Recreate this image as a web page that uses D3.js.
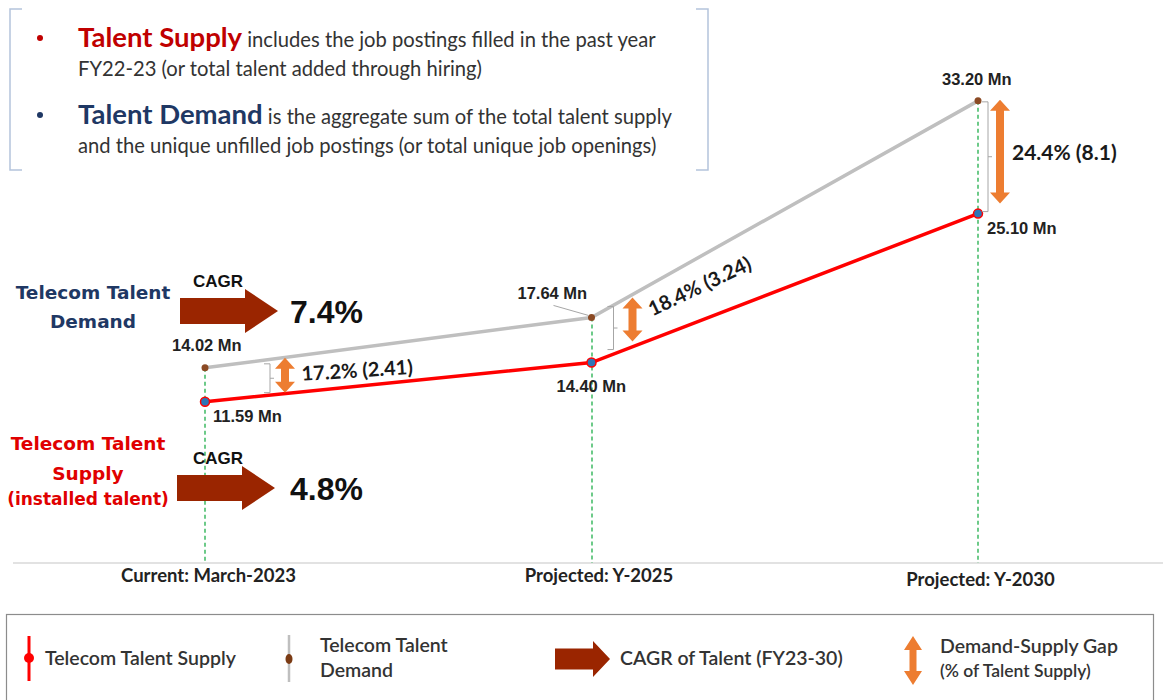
<!DOCTYPE html>
<html>
<head>
<meta charset="utf-8">
<script src="https://cdn.jsdelivr.net/npm/d3@7"></script>
<style>
  html, body { margin: 0; padding: 0; background: #fff; }
  svg { display: block; }
  .calibri { font-family: Lato, "Open Sans", sans-serif; }
  .arial { font-family: "Liberation Sans", Arial, sans-serif; }
</style>
</head>
<body>
<svg id="chart" width="1163" height="700"></svg>
<script>
// Telecom talent demand vs supply, with CAGR arrows and gap annotations.

const categories = ["Current: March-2023", "Projected: Y-2025", "Projected: Y-2030"];
const supply = [11.59, 14.40, 25.10];
const demand = [14.02, 17.64, 33.20];
const gapLabels = ["17.2% (2.41)", "18.4% (3.24)", "24.4% (8.1)"];
const cagrLabels = ["7.4%", "4.8%"];

const RED = "#ff0000", GREY = "#bfbfbf", ORANGE = "#ed7d31", ARROW = "#9a2500";
const NAVY = "#1f3864", DARKRED = "#c00000";

const svg = d3.select("#chart");
svg.append("rect").attr("width", 1163).attr("height", 700).attr("fill", "#fff");

const x = d3.scalePoint().domain(categories).range([205, 978]);
const y = d3.scaleLinear().domain([0, 40]).range([563, 6.2]);

// ---- info box with brackets
const box = svg.append("g");
const bracketColor = "#b4c4dc";
box.append("path").attr("fill", "none").attr("stroke", bracketColor).attr("stroke-width", 1.5)
  .attr("d", "M22,9 L10,9 L10,170 L22,170");
box.append("path").attr("fill", "none").attr("stroke", bracketColor).attr("stroke-width", 1.5)
  .attr("d", "M696,9 L708,9 L708,170 L696,170");

function bulletLine(yb, head, headColor, rest) {
  box.append("circle").attr("cx", 40).attr("cy", yb - 9).attr("r", 3).attr("fill", headColor);
  const t = box.append("text").attr("class", "calibri").attr("x", 78).attr("y", yb);
  t.append("tspan").attr("font-size", 27.5).attr("font-weight", 700).attr("fill", headColor).text(head);
  t.append("tspan").attr("font-size", 20.2).attr("fill", "#333").text(" " + rest);
}
bulletLine(47, "Talent Supply", DARKRED, "includes the job postings filled in the past year");
box.append("text").attr("class", "calibri").attr("x", 78).attr("y", 76)
  .attr("font-size", 20.2).attr("fill", "#333").text("FY22-23 (or total talent added through hiring)");
bulletLine(124, "Talent Demand", NAVY, "is the aggregate sum of the total talent supply");
box.append("text").attr("class", "calibri").attr("x", 78).attr("y", 153)
  .attr("font-size", 20.2).attr("fill", "#333").text("and the unique unfilled job postings (or total unique job openings)");

// ---- x axis
const axis = svg.append("g").attr("transform", `translate(0,${y(0)})`)
  .call(d3.axisBottom(x).tickSize(0).tickPadding(19));
axis.select(".domain").attr("d", "M13,0H1163").attr("stroke", "#d9d9d9").attr("stroke-width", 1.5);
axis.selectAll(".tick text")
  .attr("class", "calibri").attr("font-size", 18.5).attr("font-weight", 700).attr("fill", "#222")
  .attr("dx", (d, i) => [3, 7, 2][i]).attr("dy", (d, i) => i === 2 ? 4 : 0);

// ---- green dashed drop lines
const px = d => Math.round(x(d));
svg.append("g").selectAll("line").data(categories).join("line")
  .attr("x1", px).attr("x2", px)
  .attr("y1", (d, i) => y(Math.max(supply[i], demand[i]))).attr("y2", y(0))
  .attr("stroke", "#1fae4a").attr("stroke-width", 1.3).attr("stroke-dasharray", "4,3");

// ---- lines
const line = d3.line().x((d, i) => x(categories[i])).y(d => y(d));
svg.append("path").datum(demand).attr("d", line)
  .attr("fill", "none").attr("stroke", GREY).attr("stroke-width", 3.5);
svg.append("path").datum(supply).attr("d", line)
  .attr("fill", "none").attr("stroke", RED).attr("stroke-width", 3.5);

svg.append("g").selectAll("circle").data(demand).join("circle")
  .attr("cx", (d, i) => x(categories[i])).attr("cy", d => y(d)).attr("r", 3.5)
  .attr("fill", "#8b4a24");
svg.append("g").selectAll("circle").data(supply).join("circle")
  .attr("cx", (d, i) => x(categories[i])).attr("cy", d => y(d)).attr("r", 4.5)
  .attr("fill", "#2e75b6").attr("stroke", RED).attr("stroke-width", 1.5);

// ---- value labels
const valLabel = (v, i, dx, dy) => svg.append("text").attr("class", "arial")
  .attr("x", x(categories[i]) + dx).attr("y", y(v) + dy)
  .attr("font-size", 16.5).attr("font-weight", 700).attr("fill", "#222")
  .text(v.toFixed(2) + " Mn");
valLabel(demand[0], 0, -33, -17);
valLabel(supply[0], 0, 8, 20);
valLabel(demand[1], 1, -74, -18);
valLabel(supply[1], 1, -35, 29);
valLabel(demand[2], 2, -36, -16);
valLabel(supply[2], 2, 9, 20);
// leader line for 17.64
svg.append("line")
  .attr("x1", x(categories[1]) - 38).attr("y1", y(demand[1]) - 12)
  .attr("x2", x(categories[1]) - 3).attr("y2", y(demand[1]) - 2)
  .attr("stroke", "#a6a6a6").attr("stroke-width", 1);

// ---- gap annotations
function doubleArrow(g, cx, y1, y2, bw, hw, hl, color) {
  g.append("path").attr("fill", color).attr("d",
    `M${cx},${y1} L${cx + hw / 2},${y1 + hl} L${cx + bw / 2},${y1 + hl} L${cx + bw / 2},${y2 - hl}` +
    ` L${cx + hw / 2},${y2 - hl} L${cx},${y2} L${cx - hw / 2},${y2 - hl} L${cx - bw / 2},${y2 - hl}` +
    ` L${cx - bw / 2},${y1 + hl} L${cx - hw / 2},${y1 + hl} Z`);
}
function brace(g, bx, y1, y2) {
  const m = (y1 + y2) / 2;
  g.append("path").attr("fill", "none").attr("stroke", "#a6a6a6").attr("stroke-width", 1)
    .attr("d", `M${bx - 6},${y1} L${bx},${y1} L${bx},${y2} L${bx - 6},${y2} M${bx},${m} L${bx + 4},${m}`);
}
const gapLayout = [
  { bx: 65, bt: -4, bb: -9, ax: 80, at: -10, ab: -9, tx: 97, ty: 13, rot: -3.5, fs: 20 },
  { bx: 22, bt: -11, bb: -13, ax: 41, at: -20, ab: -21, tx: 61, ty: -1, rot: -25.5, fs: 20 },
  { bx: 10, bt: 1, bb: -2, ax: 22, at: -1, ab: -10, tx: 34, ty: 59, rot: 0, fs: 21 }
];
const gaps = svg.append("g");
gapLabels.forEach((lab, i) => {
  const L = gapLayout[i];
  const cx = x(categories[i]);
  brace(gaps, cx + L.bx, y(demand[i]) + L.bt, y(supply[i]) + L.bb);
  doubleArrow(gaps, cx + L.ax, y(demand[i]) + L.at, y(supply[i]) + L.ab, 8, 20, 11, ORANGE);
  const tx = cx + L.tx, ty = y(demand[i]) + L.ty;
  gaps.append("text").attr("class", "calibri")
    .attr("transform", `translate(${tx},${ty}) rotate(${L.rot})`)
    .attr("font-size", L.fs).attr("font-weight", 700).attr("fill", "#1a1a1a").text(lab);
});

// ---- CAGR arrows + side labels
function blockArrow(g, x0, cy, len, bh, hh, hl, color) {
  const x1 = x0 + len;
  g.append("path").attr("fill", color).attr("d",
    `M${x0},${cy - bh / 2} L${x1 - hl},${cy - bh / 2} L${x1 - hl},${cy - hh / 2} L${x1},${cy}` +
    ` L${x1 - hl},${cy + hh / 2} L${x1 - hl},${cy + bh / 2} L${x0},${cy + bh / 2} Z`);
}
const side = svg.append("g");
const cagrY = [311, 488];
cagrLabels.forEach((lab, i) => {
  const cy = cagrY[i];
  blockArrow(side, [180, 177][i], cy, 98, 26, 44, 33, ARROW);
  side.append("text").attr("class", "arial").attr("x", 218).attr("y", cy - 24)
    .attr("text-anchor", "middle").attr("font-size", 17).attr("font-weight", 700).attr("fill", "#111").text("CAGR");
  side.append("text").attr("class", "arial").attr("x", 290).attr("y", cy + 12)
    .attr("font-size", 32).attr("font-weight", 700).attr("fill", "#111").text(lab);
});
const sideLabel = (lines, color, cx, ys, sizes) => lines.forEach((t, k) =>
  side.append("text").attr("x", cx).attr("y", ys[k]).attr("text-anchor", "middle")
    .attr("font-family", "DejaVu Sans, sans-serif").attr("font-size", sizes[k]).attr("font-weight", 700)
    .attr("fill", color).text(t));
sideLabel(["Telecom Talent", "Demand"], NAVY, 93, [299, 328], [18.5, 18.5]);
sideLabel(["Telecom Talent", "Supply", "(installed talent)"], "#e00000", 88, [450, 480, 505], [18.5, 18.5, 17]);

// ---- legend
const leg = svg.append("g");
leg.append("rect").attr("x", 6.5).attr("y", 614.5).attr("width", 1147).attr("height", 100)
  .attr("fill", "#fff").attr("stroke", "#8c8c8c").attr("stroke-width", 1.2);
const legText = (tx, ty, t, fs) => leg.append("text").attr("class", "calibri").attr("x", tx).attr("y", ty)
  .attr("font-size", fs || 19.5).attr("font-weight", 600).attr("fill", "#333").text(t);
leg.append("line").attr("x1", 29).attr("x2", 29).attr("y1", 636).attr("y2", 681)
  .attr("stroke", RED).attr("stroke-width", 3);
leg.append("circle").attr("cx", 29).attr("cy", 658).attr("r", 5).attr("fill", RED);
legText(45, 665, "Telecom Talent Supply");
leg.append("line").attr("x1", 289).attr("x2", 289).attr("y1", 635).attr("y2", 682)
  .attr("stroke", GREY).attr("stroke-width", 2.5);
leg.append("ellipse").attr("cx", 289).attr("cy", 659).attr("rx", 3.5).attr("ry", 5).attr("fill", "#7b3b14");
legText(320, 652, "Telecom Talent");
legText(320, 677, "Demand");
blockArrow(leg, 555, 659, 55, 21, 36, 17, ARROW);
legText(620, 665, "CAGR of Talent (FY23-30)");
doubleArrow(leg, 913, 636, 685, 7, 18, 14, ORANGE);
legText(940, 653, "Demand-Supply Gap");
legText(940, 677, "(% of Talent Supply)", 17.5);
</script>
</body>
</html>
